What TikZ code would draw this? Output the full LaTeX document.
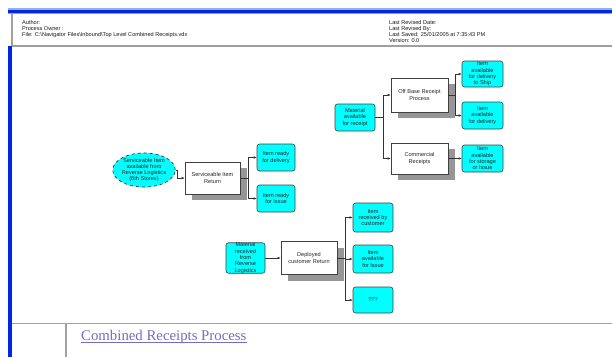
\documentclass[tikz,border=0pt]{standalone}
\usepackage{fontspec}
\setmainfont{Liberation Sans}
\newfontfamily\footserif{Liberation Serif}
\usetikzlibrary{shapes.geometric,arrows.meta,shadows}
\definecolor{aqua}{RGB}{0,255,255}
\definecolor{barblue}{RGB}{0,40,225}
\definecolor{lightbar}{RGB}{150,175,240}
\definecolor{rule}{RGB}{160,160,160}
\definecolor{foot}{RGB}{118,108,196}
\definecolor{shade}{RGB}{150,150,150}
\tikzset{
  nodefont/.style={font=\fontsize{5.6}{6.3}\selectfont},
  cyanbox/.style={nodefont, draw=black!75, fill=aqua, rounded corners=2.5pt, line width=0.6pt, align=center, inner sep=0pt, text=black!85},
  procbox/.style={nodefont, draw=black!75, fill=white, line width=0.6pt, align=center, inner sep=0pt, text=black!85,
    drop shadow={shadow xshift=7pt, shadow yshift=-6pt, fill=shade, opacity=1}},
  startell/.style={nodefont, ellipse, draw=black!80, dashed, fill=aqua, line width=0.7pt, align=center, inner sep=0pt, text=black!85},
  conn/.style={draw=black!80, line width=0.7pt},
  arr/.style={conn, -{Latex[length=3pt,width=2.6pt]}},
  hdr/.style={font=\fontsize{5.6}{6}\selectfont, align=left, inner sep=0pt, text=black!90, anchor=north west}
}
\begin{document}
\begin{tikzpicture}[x=1pt,y=-1pt]
\useasboundingbox (0,0) rectangle (612,357);
\fill[white] (0,0) rectangle (612,357);
% header frame
\fill[lightbar] (8,8) rectangle (612,9.5);
\fill[barblue] (8,9.5) rectangle (612,13);
\draw[rule, line width=0.8pt] (8,13.6) -- (612,13.6);
\draw[rule, line width=1.4pt] (12,14) -- (12,46) -- (612,46);
\fill[barblue] (8,46) rectangle (12,357);
\node[hdr] (hleft) at (22,20.5) {Author:\\Process Owner :\\File: C:\textbackslash Navigator Files\textbackslash Inbound\textbackslash Top Level Combined Receipts.vdx};
\node[hdr] (hright) at (389,20.5) {Last Revised Date:\\Last Revised By:\\Last Saved: 25/01/2005 at 7:35:43 PM\\Version: 0.0};
% footer frame
\draw[rule, line width=1.2pt] (12,323.5) -- (612,323.5);
\draw[rule, line width=1.2pt] (66,323.5) -- (66,357);
\node[anchor=base west, inner sep=0pt, text=foot, font=\footserif\fontsize{14.8}{16}\selectfont] (title) at (81,340) {Combined Receipts Process};
\draw[foot, line width=0.7pt] ([yshift=-2pt]title.base west) -- ([yshift=-2pt]title.base east);

% top-right group
\node[cyanbox, minimum width=40pt, minimum height=27pt] (mat) at (355,117.5) {Material\\available\\for receipt};
\node[procbox, minimum width=57pt, minimum height=34pt] (ob) at (419.5,95) {Off Base Receipt\\Process};
\node[procbox, minimum width=57pt, minimum height=31pt] (cr) at (419.5,158.5) {Commercial\\Receipts};
\node[cyanbox, minimum width=41pt, minimum height=26pt] (i1) at (482.5,74) {Item\\available\\for delivery\\to Ship};
\node[cyanbox, minimum width=41pt, minimum height=27pt] (i2) at (482.5,115.5) {Item\\available\\for delivery};
\node[cyanbox, minimum width=41pt, minimum height=27pt] (i3) at (482.5,158.5) {Item\\available\\for storage\\or Issue};
\coordinate (matT) at (383,117.5);
\coordinate (obT) at (455,95);
\draw[conn] (mat.east) -- (matT);
\draw[arr] (matT) |- (ob.west);
\draw[arr] (matT) |- (cr.west);
\draw[conn] (ob.east) -- (obT);
\draw[arr] (obT) |- (i1.west);
\draw[arr] (obT) |- (i2.west);
\draw[arr] (cr.east) -- (i3.west);

% left group
\node[startell, minimum width=53pt, minimum height=31pt] (ell) at (144,170) {Serviceable Item\\available from\\Reverse Logistics\\(6th Stores)};
\node[procbox, minimum width=55pt, minimum height=32pt] (sib) at (212.5,178) {Serviceable Item\\Return};
\node[cyanbox, minimum width=38pt, minimum height=27pt] (r1) at (276,157.5) {Item ready\\for delivery};
\node[cyanbox, minimum width=38pt, minimum height=27pt] (r2) at (276,198.5) {Item ready\\for Issue};
\coordinate (ellT) at (177,170);
\coordinate (sibT) at (248,178);
\draw[conn] (ell.east) -- (ellT);
\draw[arr] (ellT) |- (sib.west);
\draw[conn] (sib.east) -- (sibT);
\draw[arr] (sibT) |- (r1.west);
\draw[arr] (sibT) |- (r2.west);

% bottom group
\node[cyanbox, minimum width=39pt, minimum height=30pt] (mrl) at (245.5,258) {Material\\received\\from\\Reverse\\Logistics};
\node[procbox, minimum width=56pt, minimum height=33pt] (dcr) at (309,258) {Deployed\\customer Return};
\node[cyanbox, minimum width=40pt, minimum height=29pt] (c1) at (373,217.5) {Item\\received by\\customer};
\node[cyanbox, minimum width=40pt, minimum height=28pt] (c2) at (373,259) {Item\\available\\for Issue};
\node[cyanbox, minimum width=40pt, minimum height=26pt] (c3) at (373,300) {???};
\coordinate (dcrT) at (345,258);
\draw[arr] (mrl.east) -- (dcr.west);
\draw[conn] (dcr.east) -- (dcrT);
\draw[arr] (dcrT) |- (c1.west);
\draw[arr] (dcrT) |- (c2.west);
\draw[arr] (dcrT) |- (c3.west);
\end{tikzpicture}
\end{document}
